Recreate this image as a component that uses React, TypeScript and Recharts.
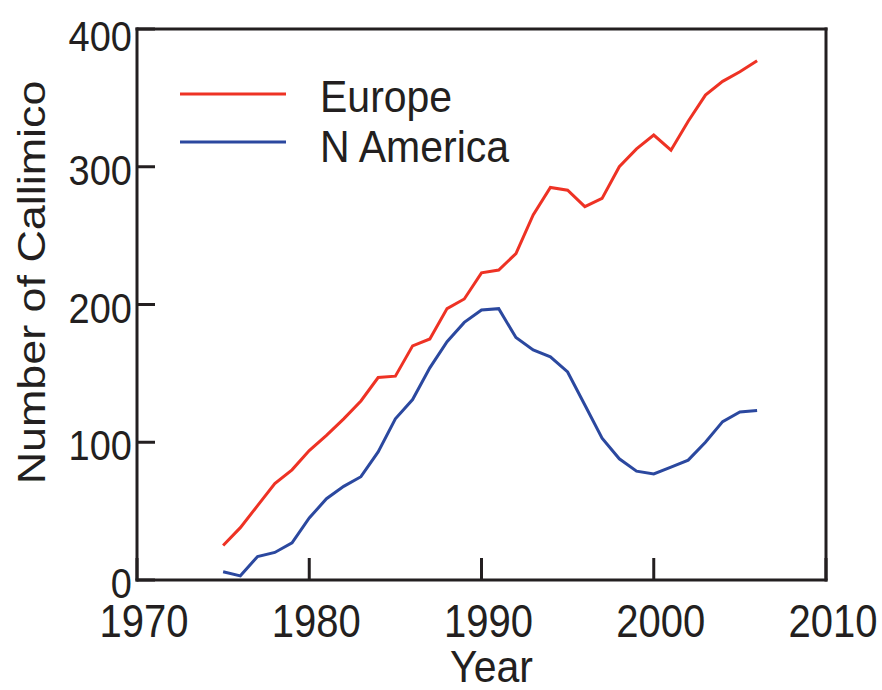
import { Legend, Line, LineChart, XAxis, YAxis } from "recharts";

// year-by-year population counts
const years = [
  1975, 1976, 1977, 1978, 1979, 1980, 1981, 1982, 1983, 1984, 1985, 1986, 1987, 1988, 1989, 1990,
  1991, 1992, 1993, 1994, 1995, 1996, 1997, 1998, 1999, 2000, 2001, 2002, 2003, 2004, 2005, 2006
];
const europe = [
  25, 38, 54, 70, 80, 94, 105, 117, 130, 147, 148, 170, 175, 197, 204, 223,
  225, 237, 265, 285, 283, 271, 277, 300, 313, 323, 312, 333, 352, 362, 369, 377
];
const nAmerica = [
  6, 3, 17, 20, 27, 45, 59, 68, 75, 93, 117, 131, 154, 173, 187, 196,
  197, 176, 167, 162, 151, 127, 103, 88, 79, 77, 82, 87, 100, 115, 122, 123
];
const xTicks = [1970, 1980, 1990, 2000, 2010];
const yTicks = [0, 100, 200, 300, 400];

const data = years.map((year, i) => ({ year, europe: europe[i], nAmerica: nAmerica[i] }));

const INK = "#231f20";
const FONT = "'Liberation Sans', Arial, Helvetica, sans-serif";
const PLOT_LEFT = 137;
const PLOT_BOTTOM = 580;

const XTick = ({ x, payload }: any) => (
  <text
    transform={`translate(${x + 7}, ${PLOT_BOTTOM + 57}) scale(1, 1.16)`}
    textAnchor="middle"
    fontFamily={FONT}
    fontSize={40}
    fill={INK}
  >
    {payload.value}
  </text>
);

const YTick = ({ y, payload }: any) => {
  const shift = payload.value === 400 ? 7 : 3;
  return (
    <text
      transform={`translate(${PLOT_LEFT - 5}, ${y + shift + 15}) scale(1, 1.1)`}
      textAnchor="end"
      fontFamily={FONT}
      fontSize={38}
      fill={INK}
    >
      {payload.value}
    </text>
  );
};

const LegendBox = ({ payload }: any) => (
  <svg width={340} height={120}>
    {(payload || []).map((item: any, i: number) => (
      <g key={item.value}>
        <line x1={10} x2={116} y1={34 + i * 48} y2={34 + i * 48} stroke={item.color} strokeWidth={3} />
        <text
          transform={`translate(150, ${51.7 + i * 50}) scale(1, 1.08)`}
          fontFamily={FONT}
          fontSize={41}
          fill={INK}
        >
          {item.value}
        </text>
      </g>
    ))}
  </svg>
);

const XTitle = ({ viewBox }: any) => (
  <text
    transform={`translate(${viewBox.x + viewBox.width / 2 + 10}, 682) scale(1, 1.08)`}
    textAnchor="middle"
    fontFamily={FONT}
    fontSize={41}
    fill={INK}
  >
    Year
  </text>
);

const YTitle = () => (
  <text
    transform="translate(45, 282.5) rotate(-90) scale(1.15, 1)"
    textAnchor="middle"
    fontFamily={FONT}
    fontSize={39}
    fill={INK}
  >
    Number of Callimico
  </text>
);

const axisLine = { stroke: INK, strokeWidth: 3, strokeLinecap: "square" as const };
const tickLine = { stroke: INK, strokeWidth: 3 };

export default function App() {
  return (
    <div style={{ position: "absolute", left: 0, top: 0, width: 882, height: 690, background: "#fff" }}>
      <LineChart width={882} height={690} data={data} margin={{ top: 29, right: 56, bottom: 110, left: 137 }}>
        <XAxis
          dataKey="year"
          type="number"
          domain={[1970, 2010]}
          ticks={xTicks}
          mirror
          tickSize={22}
          axisLine={axisLine}
          tickLine={tickLine}
          tick={<XTick />}
          label={<XTitle />}
        />
        <XAxis
          xAxisId="top"
          dataKey="year"
          type="number"
          orientation="top"
          domain={[1970, 2010]}
          ticks={xTicks}
          mirror
          tickSize={22}
          axisLine={axisLine}
          tickLine={tickLine}
          tick={false}
        />
        <YAxis
          type="number"
          domain={[0, 400]}
          ticks={yTicks}
          mirror
          tickSize={18}
          axisLine={axisLine}
          tickLine={tickLine}
          tick={<YTick />}
          label={<YTitle />}
        />
        <YAxis
          yAxisId="right"
          type="number"
          orientation="right"
          domain={[0, 400]}
          ticks={yTicks}
          mirror
          tickSize={18}
          axisLine={axisLine}
          tickLine={tickLine}
          tick={false}
        />
        <Legend
          layout="vertical"
          align="center"
          verticalAlign="middle"
          content={<LegendBox />}
          wrapperStyle={{ left: 170, top: 60, width: 340, height: 120 }}
        />
        <Line
          type="linear"
          dataKey="europe"
          name="Europe"
          stroke="#ee3224"
          strokeWidth={3}
          dot={false}
          isAnimationActive={false}
        />
        <Line
          type="linear"
          dataKey="nAmerica"
          name="N America"
          stroke="#2b489f"
          strokeWidth={3}
          dot={false}
          isAnimationActive={false}
        />
      </LineChart>
    </div>
  );
}
